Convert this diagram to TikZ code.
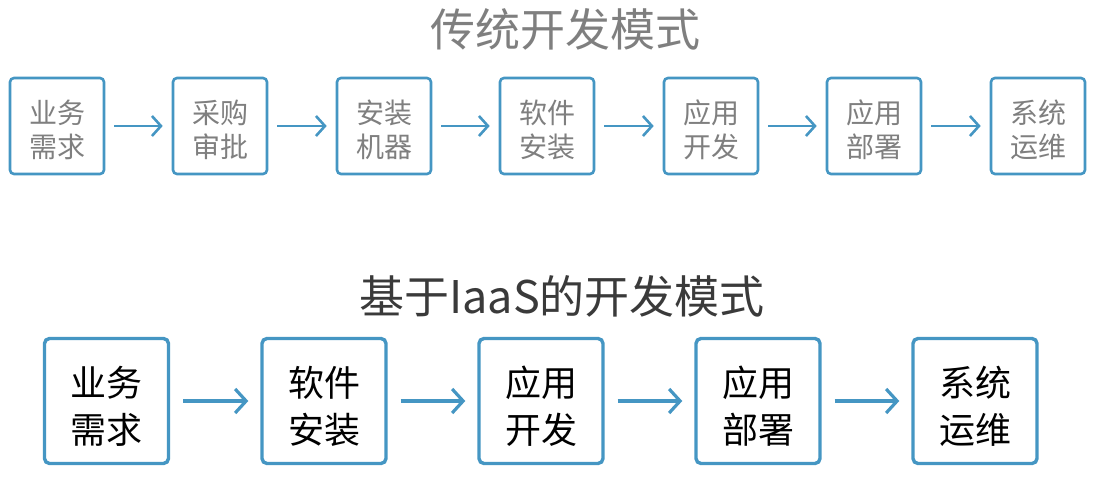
\documentclass[tikz,border=0pt]{standalone}
\usepackage{fontspec}
\newfontfamily\cjk{Noto Sans CJK SC}
\usetikzlibrary{arrows.meta}
\definecolor{boxblue}{HTML}{4596C3}
\definecolor{txtgray}{HTML}{7F7F7F}
\definecolor{titledark}{HTML}{3A3A3A}
\tikzset{
  topbox/.style={draw=boxblue, line width=2.6pt, rounded corners=4pt, fill=white,
    minimum width=94pt, minimum height=96pt, inner sep=0pt},
  toptext/.style={inner sep=0pt, align=center,
    font=\cjk\fontsize{28}{34}\selectfont, text=txtgray},
  botbox/.style={draw=boxblue, line width=3.4pt, rounded corners=5pt, fill=white,
    minimum width=124pt, minimum height=125pt, inner sep=0pt},
  bottext/.style={inner sep=0pt, align=center,
    font=\cjk\fontsize{36}{47}\selectfont, text=black},
  toparrow/.style={draw=boxblue, line width=2.6pt, -{Straight Barb[length=9pt,width=20pt,line width=2.6pt]}},
  botarrow/.style={draw=boxblue, line width=3.2pt, -{Straight Barb[length=11pt,width=24pt,line width=3.2pt]}},
}
\begin{document}
\begin{tikzpicture}[x=1pt,y=-1pt]
\useasboundingbox (0,0) rectangle (1096,481);
\node[font=\cjk\fontsize{45}{45}\selectfont, text=txtgray] (t1) at (565,29) {传统开发模式};
\node[font=\cjk\fontsize{45}{45}\selectfont, text=titledark] (t2) at (562,296) {基于IaaS的开发模式};
% top row
\foreach \n/\x/\t in {a1/57/{业务\\需求},a2/220/{采购\\审批},a3/384/{安装\\机器},a4/547/{软件\\安装},a5/711/{应用\\开发},a6/874/{应用\\部署},a7/1038/{系统\\运维}}{
  \node[topbox] (\n) at (\x,126) {};
  \node[toptext] (\n t) at ([yshift=-4pt]\n.center) {\t};
}
\foreach \i/\j in {a1/a2,a2/a3,a3/a4,a4/a5,a5/a6,a6/a7}{
  \draw[toparrow] ([xshift=9pt]\i.east) -- ([xshift=-9pt]\j.west);
}
% bottom row
\foreach \n/\x/\t in {b1/106.5/{业务\\需求},b2/324/{软件\\安装},b3/541/{应用\\开发},b4/758/{应用\\部署},b5/975/{系统\\运维}}{
  \node[botbox] (\n) at (\x,401) {};
  \node[bottext] (\n t) at ([yshift=-5pt]\n.center) {\t};
}
\foreach \i/\j in {b1/b2,b2/b3,b3/b4,b4/b5}{
  \draw[botarrow] ([xshift=13pt]\i.east) -- ([xshift=-12pt]\j.west);
}
\end{tikzpicture}
\end{document}
